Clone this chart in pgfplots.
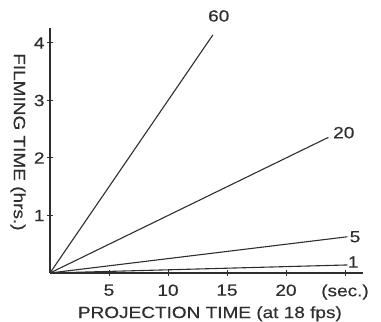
\documentclass[border=0pt]{standalone}
\usepackage{pgfplots}
\pgfplotsset{compat=1.18}
\usepackage{fontspec}
\setmainfont[FakeStretch=1.17, FakeBold=0.4]{Liberation Sans}
\definecolor{ink}{HTML}{2E2E2E}
\begin{document}
\begin{tikzpicture}[x=1bp,y=1bp]
\begin{axis}[
  x=11.8bp, y=57.5bp,
  scale only axis,
  xmin=0, xmax=26.5, ymin=0, ymax=4.26,
  axis x line=bottom, axis y line=left,
  axis line style={ink, line width=1.4bp, -},
  xtick={5,10,15,20,25}, xticklabels={5,10,15,20,(sec.)},
  ytick={1,2,3,4},
  tick align=center, major tick length=6bp,
  tick style={ink, line width=1bp},
  /pgf/number format/assume math mode=true,
  ticklabel style={font=\fontsize{16.3}{16.3}\selectfont, text=ink},
  xticklabel style={yshift=-5bp},
  yticklabel style={xshift=1bp},
  clip=false,
]
\addplot[ink, line width=1.1bp] coordinates {(0,0) (13.8,4.14)};
\addplot[ink, line width=1.1bp] coordinates {(0,0) (23.6,2.36)};
\addplot[ink, line width=1.1bp] coordinates {(0,0) (25.2,0.63)};
\addplot[ink, line width=1.1bp] coordinates {(0,0) (25.2,0.14)};
\node[text=ink, font=\fontsize{16.3}{16.3}\selectfont] at (axis cs:14.3,4.47) {60};
\node[text=ink, font=\fontsize{16.3}{16.3}\selectfont] at (axis cs:24.9,2.44) {20};
\node[text=ink, font=\fontsize{16.3}{16.3}\selectfont] at (axis cs:25.85,0.63) {5};
\node[text=ink, font=\fontsize{16.3}{16.3}\selectfont] at (axis cs:25.7,0.19) {1};
\node[text=ink, font=\fontsize{16.3}{16.3}\selectfont] at (axis cs:13.55,-0.71) {PROJECTION TIME (at 18 fps)};
\node[text=ink, rotate=-90, font=\fontsize{16.3}{16.3}\selectfont] at (axis cs:-2.71,2.28) {FILMING TIME (hrs.)};
\end{axis}
\pgfresetboundingbox
\path (-50bp,-49bp) rectangle (331bp,273bp);
\end{tikzpicture}
\end{document}
